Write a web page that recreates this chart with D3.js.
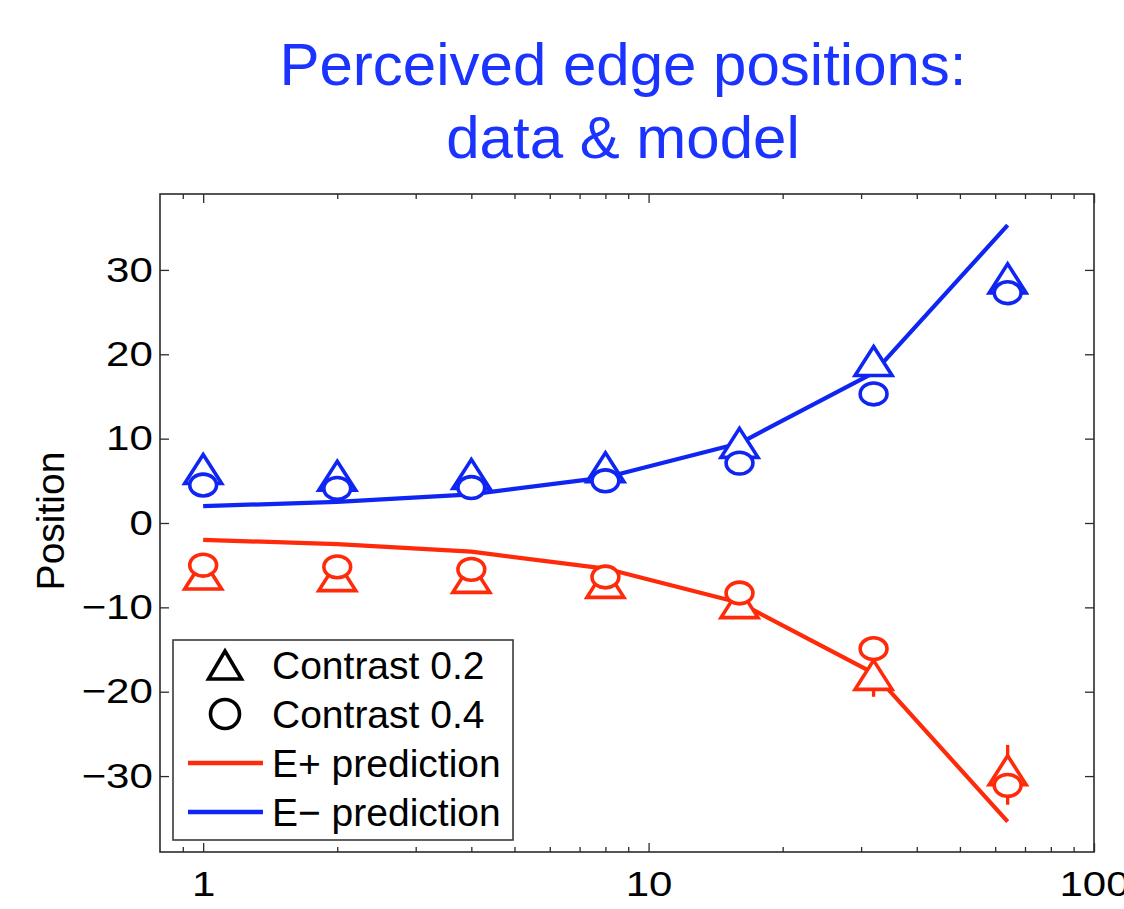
<!DOCTYPE html>
<html>
<head>
<meta charset="utf-8">
<script src="https://cdn.jsdelivr.net/npm/d3@7"></script>
<style>
  html, body { margin: 0; padding: 0; background: #fff; }
  svg { display: block; }
  text { font-family: "Liberation Sans", Arial, Helvetica, sans-serif; }
</style>
</head>
<body>
<svg id="chart" width="1124" height="909"></svg>
<script>
// Spatial frequency conditions (log axis)
const xValues = [1, 2, 4, 8, 16, 32, 64];

// Model predictions
const ePlusPred  = [-2.0, -2.5, -3.4, -5.4, -9.45, -17.8, -35.4];
const eMinusPred = [ 2.0,  2.5,  3.4,  5.4,  9.45,  17.8,  35.3];

// Measured edge positions (E- edge shown in blue, E+ edge in red)
const eMinusC02 = [6.4, 5.6, 5.8, 6.6, 9.5, 19.2, 29.0];
const eMinusC04 = [4.5, 4.1, 4.2, 5.0, 7.1, 15.3, 27.3];
const ePlusC02  = [-6.1, -6.3, -6.5, -7.1, -9.5, -18.0, -29.3];
const ePlusC04  = [-5.0, -5.2, -5.5, -6.4, -8.3, -14.9, -31.1];

// Error bar half-lengths
const eMinusC02Err = [0.8, 0.7, 0.8, 0.8, 1.0, 1.2, 1.5];
const eMinusC04Err = [0.6, 0.6, 0.6, 0.7, 0.9, 1.0, 1.2];
const ePlusC02Err  = [0.8, 0.8, 0.8, 0.9, 1.2, 2.6, 3.0];
const ePlusC04Err  = [0.6, 0.6, 0.7, 0.7, 0.9, 1.0, 2.3];

// Axis ticks
const xMajorTicks = [1, 10, 100];
const yTicks = [-30, -20, -10, 0, 10, 20, 30];

const titleLines = ["Perceived edge positions:", "data & model"];
const yLabel = "Position";
const legendLabels = ["Contrast 0.2", "Contrast 0.4", "E+ prediction", "E\u2212 prediction"];

const BLUE = "#0f26f2";
const RED = "#ff2a0a";
const TITLE_BLUE = "#1a33ff";
const AXIS = "#2b2b2b";

const svg = d3.select("#chart");
const plot = { left: 160, right: 1094, top: 194, bottom: 852 };

const x = d3.scaleLog().domain([0.8, 100]).range([plot.left, plot.right]);
const y = d3.scaleLinear().domain([-39, 39]).range([plot.bottom, plot.top]);

// Title
svg.append("g").selectAll("text").data(titleLines).join("text")
  .attr("x", 623)
  .attr("y", (d, i) => 85 + i * 73)
  .attr("text-anchor", "middle")
  .attr("font-size", 60)
  .attr("fill", TITLE_BLUE)
  .text(d => d);

// Axis label
svg.append("text")
  .attr("transform", "translate(64,521) rotate(-90)")
  .attr("text-anchor", "middle")
  .attr("font-size", 39)
  .attr("fill", "#000")
  .text(yLabel);

// Axes (ticks point inward, MATLAB style box)
const minorX = x.ticks().filter(v => !xMajorTicks.includes(v) && v > 0.8);

function styleAxis(g) {
  g.select(".domain").remove();
  g.selectAll(".tick line").attr("stroke", AXIS).attr("stroke-width", 1.3);
}

svg.append("g").attr("transform", `translate(0,${plot.bottom})`)
  .call(d3.axisBottom(x).tickValues(xMajorTicks).tickSize(-9).tickPadding(19)
    .tickFormat(d3.format("d")))
  .call(styleAxis)
  .call(g => g.selectAll("text").attr("font-size", 35).attr("fill", "#000")
    .attr("font-family", "Liberation Sans, Arial, sans-serif")
    .attr("transform", "scale(1.2,1)"));
svg.append("g").attr("transform", `translate(0,${plot.bottom})`)
  .call(d3.axisBottom(x).tickValues(minorX).tickSize(-5).tickFormat(""))
  .call(styleAxis);
svg.append("g").attr("transform", `translate(0,${plot.top})`)
  .call(d3.axisTop(x).tickValues(xMajorTicks).tickSize(-9).tickFormat(""))
  .call(styleAxis);
svg.append("g").attr("transform", `translate(0,${plot.top})`)
  .call(d3.axisTop(x).tickValues(minorX).tickSize(-5).tickFormat(""))
  .call(styleAxis);

svg.append("g").attr("transform", `translate(${plot.left},0)`)
  .call(d3.axisLeft(y).tickValues(yTicks).tickSize(-9).tickPadding(6))
  .call(styleAxis)
  .call(g => g.selectAll("text").attr("font-size", 35).attr("fill", "#000")
    .attr("font-family", "Liberation Sans, Arial, sans-serif")
    .attr("transform", "scale(1.2,1)"));
svg.append("g").attr("transform", `translate(${plot.right},0)`)
  .call(d3.axisRight(y).tickValues(yTicks).tickSize(-9).tickFormat(""))
  .call(styleAxis);

svg.append("rect")
  .attr("x", plot.left).attr("y", plot.top)
  .attr("width", plot.right - plot.left).attr("height", plot.bottom - plot.top)
  .attr("fill", "none").attr("stroke", AXIS).attr("stroke-width", 1.6);

// Prediction lines
const line = d3.line().x(d => x(d[0])).y(d => y(d[1]));
[[eMinusPred, BLUE], [ePlusPred, RED]].forEach(([vals, col]) => {
  svg.append("path")
    .datum(xValues.map((v, i) => [v, vals[i]]))
    .attr("d", line)
    .attr("fill", "none").attr("stroke", col).attr("stroke-width", 4.2)
    .attr("stroke-linejoin", "round");
});

// Data series
const series = [
  { vals: eMinusC02, err: eMinusC02Err, color: BLUE, shape: "tri" },
  { vals: ePlusC02,  err: ePlusC02Err,  color: RED,  shape: "tri" },
  { vals: eMinusC04, err: eMinusC04Err, color: BLUE, shape: "circ" },
  { vals: ePlusC04,  err: ePlusC04Err,  color: RED,  shape: "circ" }
];

const triPath = (w, h) => `M0,${-h / 2}L${w / 2},${h / 2}L${-w / 2},${h / 2}Z`;

// Error bars first, markers on top
series.forEach(s => {
  svg.append("g").selectAll("line").data(xValues).join("line")
    .attr("x1", d => x(d)).attr("x2", d => x(d))
    .attr("y1", (d, i) => y(s.vals[i] + s.err[i]))
    .attr("y2", (d, i) => y(s.vals[i] - s.err[i]))
    .attr("stroke", s.color).attr("stroke-width", 3.3);
});

series.filter(s => s.shape === "tri").forEach(s => {
  svg.append("g").selectAll("path").data(xValues).join("path")
    .attr("transform", (d, i) => `translate(${x(d)},${y(s.vals[i])})`)
    .attr("d", triPath(37, 29))
    .attr("fill", "#fff").attr("stroke", s.color).attr("stroke-width", 3.6)
    .attr("stroke-linejoin", "miter");
});
series.filter(s => s.shape === "circ").forEach(s => {
  svg.append("g").selectAll("ellipse").data(xValues).join("ellipse")
    .attr("cx", d => x(d)).attr("cy", (d, i) => y(s.vals[i]))
    .attr("rx", 13.4).attr("ry", 10.9)
    .attr("fill", "#fff").attr("stroke", s.color).attr("stroke-width", 3.6);
});

// Legend
const lg = svg.append("g");
lg.append("rect")
  .attr("x", 173).attr("y", 640).attr("width", 340).attr("height", 200)
  .attr("fill", "#fff").attr("stroke", "#3a3a3a").attr("stroke-width", 1.6);
const rowY = i => 665 + i * 49;
lg.append("path")
  .attr("transform", `translate(225,${rowY(0)})`)
  .attr("d", triPath(33, 28))
  .attr("fill", "none").attr("stroke", "#000").attr("stroke-width", 3.6)
  .attr("stroke-linejoin", "miter");
lg.append("circle")
  .attr("cx", 225).attr("cy", rowY(1)).attr("r", 14.5)
  .attr("fill", "none").attr("stroke", "#000").attr("stroke-width", 3.6);
[RED, BLUE].forEach((c, k) => {
  lg.append("line")
    .attr("x1", 188).attr("x2", 263)
    .attr("y1", rowY(k + 2)).attr("y2", rowY(k + 2))
    .attr("stroke", c).attr("stroke-width", 4.5);
});
lg.selectAll("text").data(legendLabels).join("text")
  .attr("x", 272).attr("y", (d, i) => rowY(i) + 14)
  .attr("font-size", 39).attr("fill", "#000")
  .text(d => d);
</script>
</body>
</html>
